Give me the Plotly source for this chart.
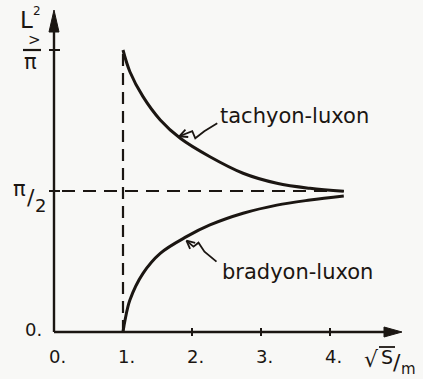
import math
import plotly.graph_objects as go

# Curves: sqrt(s)/m on x, <L^2>/pi in units of pi/2 on y
x_tachyon = [1.0, 1.1, 1.29, 1.54, 1.83, 2.26, 2.74, 3.23, 3.71, 4.2]
y_tachyon = [2.0, 1.846, 1.669, 1.504, 1.374, 1.243, 1.126, 1.055, 1.019, 0.998]
x_bradyon = [1.0, 1.03, 1.1, 1.29, 1.54, 1.92, 2.26, 2.74, 3.23, 3.71, 4.2]
y_bradyon = [0.0, 0.085, 0.227, 0.416, 0.558, 0.676, 0.759, 0.842, 0.90, 0.936, 0.965]

x_ticks = [0, 1, 2, 3, 4]
x_tick_labels = ["0.", "1.", "2.", "3.", "4."]
threshold = 1.0        # sqrt(s) = m
y_limit = 1.0          # pi/2 asymptote
y_top = 2.0            # pi

W, H = 423, 379
X0, SX = 54.0, 69.0    # pixel position of x=0 and pixels per unit
Y0, SY = 332.0, 141.0  # pixel position of y=0 and pixels per unit (pi/2)

INK = "#1b1612"
PAPER = "#f8f8f6"
FONT = "DejaVu Sans"


def dx(px):
    return (px - X0) / SX


def dy(py):
    return (Y0 - py) / SY


def to_px(x, y):
    return X0 + x * SX, Y0 - y * SY


fig = go.Figure()


def seg(xs, ys, width=2.0, dash=None, color=INK, shape="linear"):
    fig.add_trace(go.Scatter(
        x=xs, y=ys, mode="lines", hoverinfo="skip", showlegend=False,
        line=dict(color=color, width=width, dash=dash, shape=shape),
    ))


def tri(pts):
    xs = [dx(p[0]) for p in pts] + [dx(pts[0][0])]
    ys = [dy(p[1]) for p in pts] + [dy(pts[0][1])]
    fig.add_trace(go.Scatter(
        x=xs, y=ys, mode="lines", fill="toself", fillcolor=INK,
        line=dict(color=INK, width=1), hoverinfo="skip", showlegend=False,
    ))


# axes with arrowheads
x_end = dx(388)
seg([0, x_end], [0, 0], width=2.4)
tri([(402, Y0), (384, Y0 - 5), (384, Y0 + 5)])
y_end = dy(28)
seg([0, 0], [0, y_end], width=2.4)
tri([(X0, 10), (X0 - 5, 32), (X0 + 5, 32)])

# tick marks
for t in x_ticks[2:]:
    seg([t, t], [dy(Y0 + 4), dy(Y0 - 4)], width=2.0)
for t in [y_limit, y_top]:
    seg([dx(X0 - 5), dx(X0 + 6)], [t, t], width=2.0)

# dashed guides: threshold and asymptote
seg([threshold, threshold], [0, y_top], width=2.2, dash="12px,7px")
seg([dx(X0 + 8), x_tachyon[-1]], [y_limit, y_limit], width=2.2, dash="13px,8px")

# the two curves
seg(x_tachyon, y_tachyon, width=3.0, shape="spline")
seg(x_bradyon, y_bradyon, width=3.0, shape="spline")


def pointer(tip_px, offsets):
    tx, ty = tip_px
    pts = [(tx, ty)] + [(tx + ox, ty + oy) for ox, oy in offsets]
    seg([dx(p[0]) for p in pts], [dy(p[1]) for p in pts], width=1.8)
    # open arrowhead
    ux, uy = offsets[0]
    n = math.hypot(ux, uy)
    ux, uy = ux / n, uy / n
    for a in (0.45, -0.45):
        c, s = math.cos(a), math.sin(a)
        bx, by = ux * c - uy * s, ux * s + uy * c
        seg([dx(tx), dx(tx + 9 * bx)], [dy(ty), dy(ty + 9 * by)], width=1.8)


tx, ty = to_px(x_tachyon[4], y_tachyon[4])
pointer((tx - 1, ty - 2), [(13, -5), (16, 2), (25, -5), (38, -13)])
bx, by = to_px(x_bradyon[5], y_bradyon[5])
pointer((bx, by + 4), [(7, 6), (12, 2), (18, 11), (30, 21)])

ann = []


def label(px, py, text, size=18, xanchor="center", yanchor="middle"):
    ann.append(dict(
        x=px / W, y=1 - py / H, xref="paper", yref="paper", text=text,
        showarrow=False, xanchor=xanchor, yanchor=yanchor,
        font=dict(family=FONT, size=size, color=INK),
    ))


# x tick labels
for t, lab in zip(x_ticks, x_tick_labels):
    px, _ = to_px(t, 0)
    label(px + 3, 356, lab, size=18)

# y tick labels
label(33, 329, "0.", size=18)
label(19, 189, "π", size=21)
label(31, 197, "/", size=22)
label(40, 205, "2", size=18)

# y axis title
label(27, 20, "L", size=23)
label(37, 11, "2", size=12)
label(34, 40, ">", size=15)
seg([dx(23), dx(41)], [dy(50), dy(50)], width=2.2)
label(31, 62, "π", size=21)

# x axis title
label(371, 359, "√", size=22)
label(387, 357, "S", size=19)
seg([dx(379), dx(395)], [dy(347), dy(347)], width=1.8)
label(397, 362, "/", size=22)
label(408, 369, "m", size=15)

# curve labels
label(294, 116, "tachyon-luxon", size=21)
label(297, 272, "bradyon-luxon", size=21)

fig.update_layout(
    width=W, height=H,
    margin=dict(l=0, r=0, t=0, b=0),
    paper_bgcolor=PAPER, plot_bgcolor=PAPER,
    xaxis=dict(range=[dx(0), dx(W)], visible=False, fixedrange=True),
    yaxis=dict(range=[dy(H), dy(0)], visible=False, fixedrange=True),
    annotations=ann,
    showlegend=False,
)

fig.write_html("out.html")
